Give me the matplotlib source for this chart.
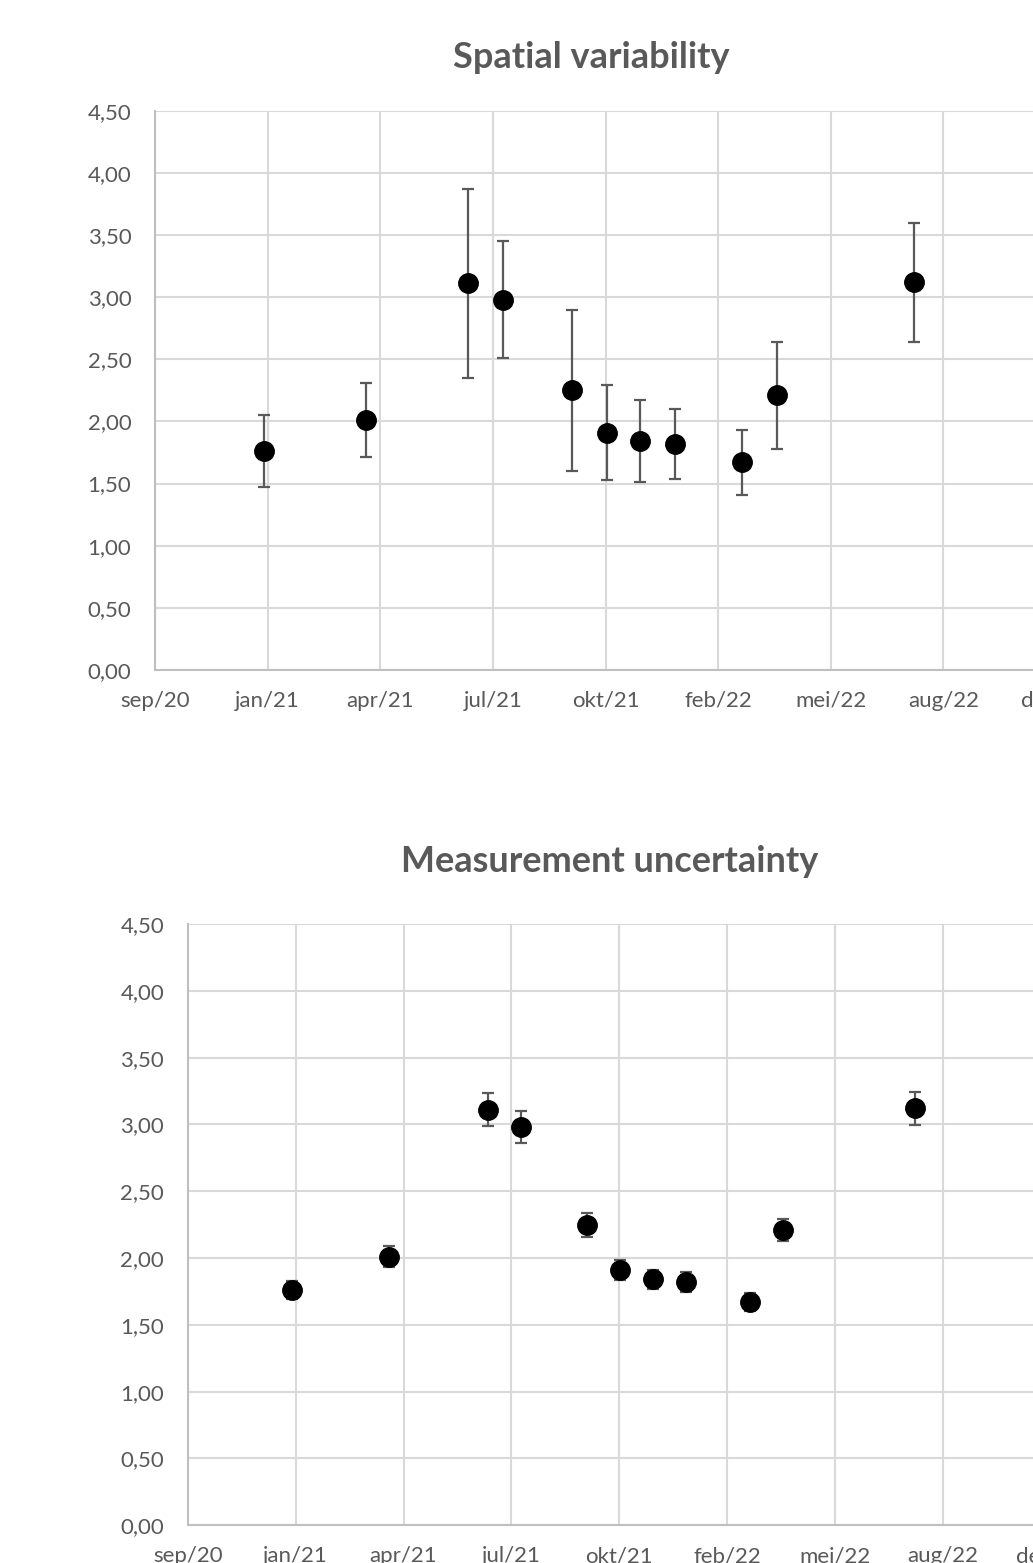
import datetime as dt
import matplotlib
matplotlib.use("Agg")
import matplotlib.pyplot as plt
import matplotlib.dates as mdates
from matplotlib.ticker import FixedLocator, FuncFormatter

# sampling dates and mean values (same for both panels)
dates = ["2021-01-01", "2021-04-01", "2021-07-01", "2021-08-01", "2021-10-01",
         "2021-11-01", "2021-12-01", "2022-01-01", "2022-03-01", "2022-04-01",
         "2022-08-01"]
values = [1.76, 2.01, 3.11, 2.98, 2.25, 1.91, 1.84, 1.82, 1.67, 2.21, 3.12]

# error bars
spatial_err = [0.29, 0.30, 0.76, 0.47, 0.65, 0.38, 0.33, 0.28, 0.26, 0.43, 0.48]
measure_err = [0.07, 0.08, 0.125, 0.12, 0.09, 0.075, 0.074, 0.073, 0.067, 0.086, 0.123]

titles = ["Spatial variability", "Measurement uncertainty"]
dutch_months = ["jan", "feb", "mrt", "apr", "mei", "jun",
                "jul", "aug", "sep", "okt", "nov", "dec"]

x_start = dt.date(2020, 9, 26)
x_step_days = 100
n_steps = 8

GRID = "#d9d9d9"
AXIS = "#bfbfbf"
TEXT = "#595959"
FONT = ["Lato", "DejaVu Sans"]

x = [dt.date.fromisoformat(d) for d in dates]
tick_dates = [x_start + dt.timedelta(days=x_step_days * i) for i in range(n_steps + 1)]
tick_nums = [mdates.date2num(d) for d in tick_dates]


def fmt_date(v, pos=None):
    d = mdates.num2date(v)
    return f"{dutch_months[d.month - 1]}/{d.year % 100:02d}"


def fmt_val(v, pos=None):
    return f"{v:.2f}".replace(".", ",")


fig = plt.figure(figsize=(10.33, 15.63), dpi=100)
W, H = 1033, 1563
# axes boxes in pixels: left, top, right, bottom
boxes = [(155, 110.7, 1056, 670), (187.7, 924, 1051, 1525.3)]
title_pos = [(591, 57), (610, 862)]

for box, err, title, tpos in zip(boxes, [spatial_err, measure_err], titles, title_pos):
    l, t, r, b = box
    ax = fig.add_axes([l / W, (H - b) / H, (r - l) / W, (b - t) / H])
    ax.errorbar(x, values, yerr=err, fmt="o", color="black", markersize=14,
                ecolor=TEXT, elinewidth=1.6, capsize=4.5, capthick=1.6, zorder=3)
    ax.set_xlim(tick_nums[0], tick_nums[-1])
    ax.set_ylim(0, 4.5)
    ax.xaxis.set_major_locator(FixedLocator(tick_nums))
    ax.xaxis.set_major_formatter(FuncFormatter(fmt_date))
    ax.set_yticks([i * 0.5 for i in range(10)])
    ax.yaxis.set_major_formatter(FuncFormatter(fmt_val))
    ax.grid(True, color=GRID, linewidth=1.5)
    ax.set_axisbelow(True)
    for s in ["top", "right"]:
        ax.spines[s].set_visible(False)
    for s in ["left", "bottom"]:
        ax.spines[s].set_color(AXIS)
        ax.spines[s].set_linewidth(1.5)
    ax.tick_params(length=0, labelsize=16, labelcolor=TEXT)
    ax.tick_params(axis="x", pad=15)
    ax.tick_params(axis="y", pad=17)
    for lab in ax.get_xticklabels() + ax.get_yticklabels():
        lab.set_family(FONT)
    fig.text(tpos[0] / W, 1 - tpos[1] / H, title, ha="center", va="center",
             fontsize=26, fontweight="bold", color=TEXT, family=FONT)

fig.savefig("out.png", dpi=100)
